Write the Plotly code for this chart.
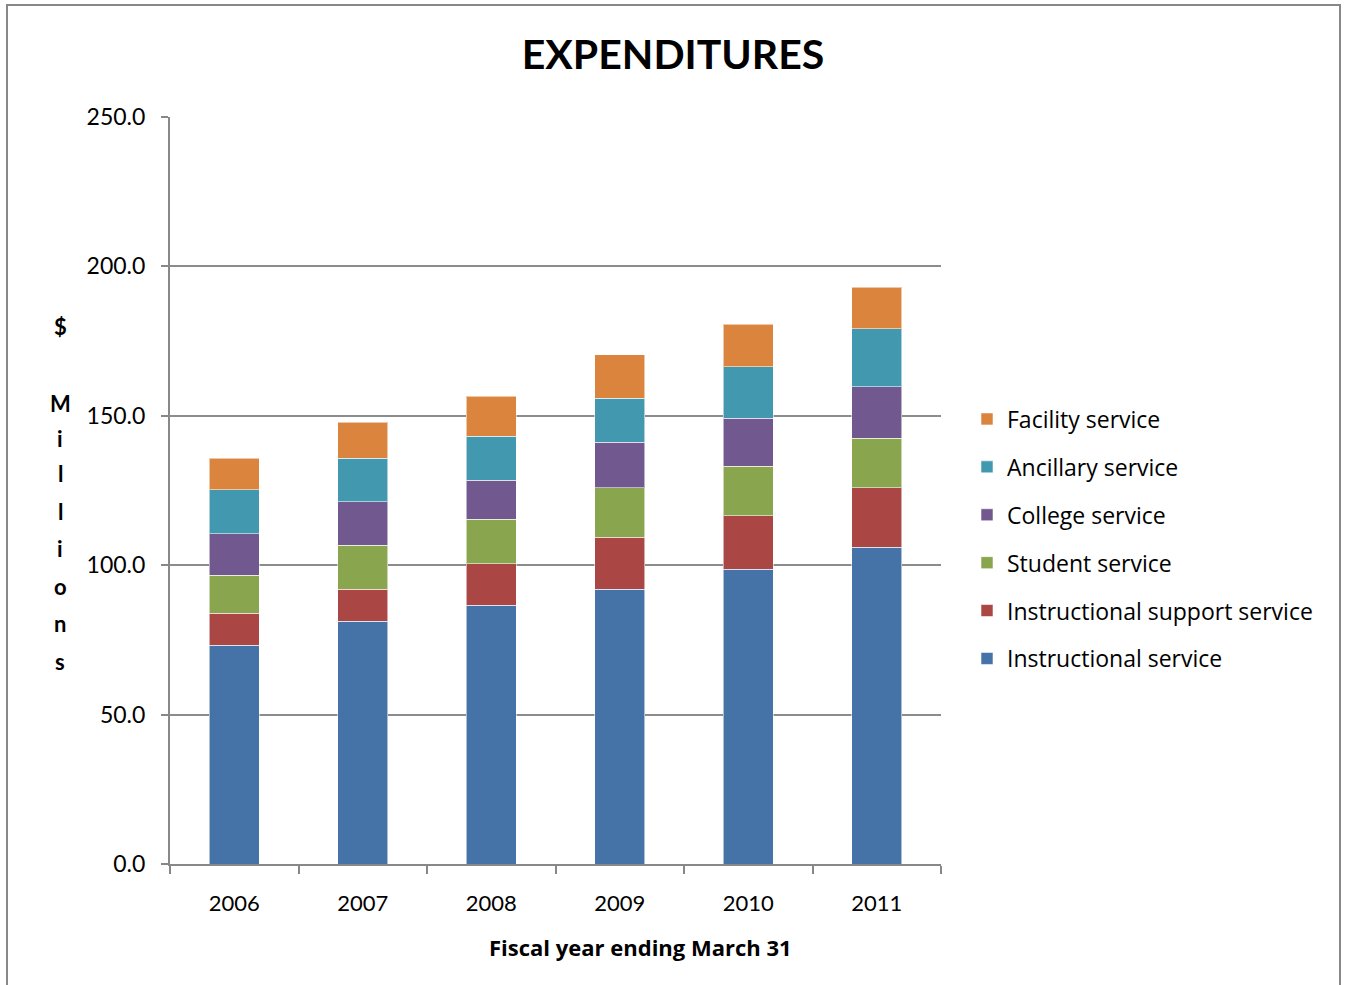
import plotly.graph_objects as go

years = ["2006", "2007", "2008", "2009", "2010", "2011"]
instructional = [73.2, 81.2, 86.6, 91.9, 98.6, 106.0]
instructional_support = [10.7, 10.7, 13.9, 17.4, 17.9, 19.9]
student = [12.8, 14.7, 14.8, 16.6, 16.7, 16.6]
college = [13.9, 14.6, 13.2, 15.2, 15.9, 17.3]
ancillary = [14.6, 14.6, 14.7, 14.7, 17.3, 19.3]
facility = [10.6, 12.1, 13.3, 14.7, 14.2, 14.0]

series = [
    ("Instructional service", instructional, "#4572A7"),
    ("Instructional support service", instructional_support, "#AA4643"),
    ("Student service", student, "#89A54E"),
    ("College service", college, "#71588F"),
    ("Ancillary service", ancillary, "#4198AF"),
    ("Facility service", facility, "#DB843D"),
]

FONT = "Lato"
FONT2 = "Open Sans"
W, H = 1346, 985
L, R, T, B = 170, 405, 117, 121
pw = W - L - R
ph = H - T - B

fig = go.Figure()
n = len(series)
for i, (name, vals, col) in enumerate(series):
    fig.add_trace(go.Bar(
        x=years, y=vals, name=name, legendgroup=name, legendrank=n - i,
        marker=dict(color=col, line=dict(color="rgba(255,255,255,0.55)", width=1)),
    ))

def px_x(px):
    return (px - L) / pw

def px_y(py):
    return (H - B - py) / ph

annotations = [
    dict(text="<b>Fiscal year ending March 31</b>", xref="paper", yref="paper",
         x=px_x(640), y=px_y(947), xanchor="center", yanchor="middle",
         showarrow=False, font=dict(family=FONT2, size=22, color="black")),
]
ytitle_chars = [("$", 326), ("M", 403), ("i", 438), ("l", 474), ("l", 511),
                ("i", 548), ("o", 586), ("n", 623), ("s", 661)]
for ch, ypix in ytitle_chars:
    annotations.append(dict(text="<b>%s</b>" % ch, xref="paper", yref="paper",
                            x=px_x(60), y=px_y(ypix), xanchor="center", yanchor="middle",
                            showarrow=False, font=dict(family=FONT, size=22, color="black")))

fig.update_layout(
    width=W, height=H,
    barmode="stack", bargap=0.61,
    paper_bgcolor="white", plot_bgcolor="white",
    margin=dict(l=L, r=R, t=T, b=B, pad=0),
    font=dict(family=FONT, color="black"),
    title=dict(text="<b>EXPENDITURES</b>", x=0.5, xref="container", xanchor="center",
               y=(H - 55) / H, yref="container", yanchor="middle",
               font=dict(family=FONT, size=41, color="black")),
    legend=dict(x=px_x(967), xanchor="left", y=px_y(539), yanchor="middle",
                traceorder="grouped", tracegroupgap=15,
                font=dict(family=FONT2, size=23, color="black"), bgcolor="rgba(0,0,0,0)"),
    annotations=annotations,
    shapes=[dict(type="rect", xref="paper", yref="paper",
                 x0=px_x(7), x1=px_x(1340), y0=px_y(995), y1=px_y(5),
                 line=dict(color="#888888", width=2), fillcolor="rgba(0,0,0,0)", layer="below")],
)
fig.update_xaxes(
    type="category", tickson="boundaries", ticks="outside", ticklen=8, tickwidth=2,
    tickcolor="#888888", showline=True, linecolor="#888888", linewidth=2,
    tickfont=dict(family=FONT, size=22, color="black"), ticklabelstandoff=19,
    showgrid=False,
)
fig.update_yaxes(
    range=[0, 250], dtick=50, tickformat=".1f", ticks="outside", ticklen=7, tickwidth=2,
    tickcolor="#888888", showline=True, linecolor="#888888", linewidth=2,
    showgrid=True, gridcolor="#8c8c8c", gridwidth=2, zeroline=False,
    tickfont=dict(family=FONT, size=23, color="black"), ticklabelstandoff=11,
)

fig.write_html("out.html")
